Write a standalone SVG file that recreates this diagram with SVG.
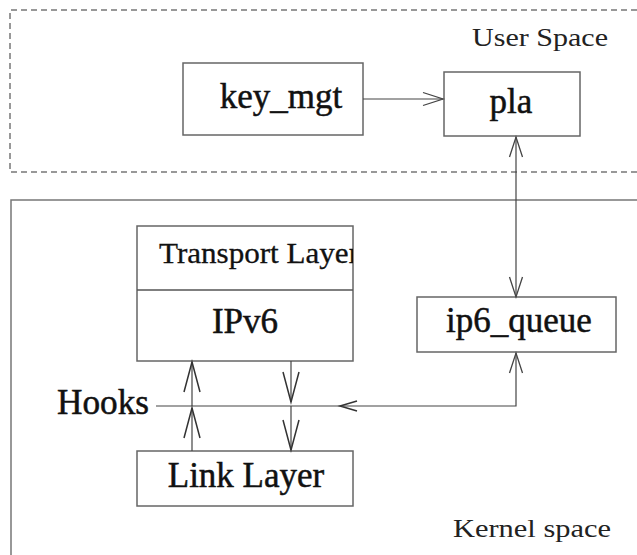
<svg xmlns="http://www.w3.org/2000/svg" width="637" height="555" viewBox="0 0 637 555">
<style>
.box{fill:#fff;stroke:#666;stroke-width:1.5}
.region{fill:none;stroke:#777;stroke-width:1.5}
.line{fill:none;stroke:#444;stroke-width:1.2}
.t{font-family:"Liberation Serif","Times New Roman",serif;fill:#111}
.big{font-size:35px;stroke:#111;stroke-width:0.5}
.lab{font-size:26px;fill:#222}
</style>
<defs>
<marker id="a20" markerUnits="userSpaceOnUse" markerWidth="24" markerHeight="16" refX="20" refY="7" orient="auto-start-reverse" viewBox="0 0 24 16" overflow="visible">
<path d="M0,0.5 L20,7 L0,13.5" fill="none" stroke="#444" stroke-width="1.3"/>
</marker>
<marker id="a30" markerUnits="userSpaceOnUse" markerWidth="34" markerHeight="18" refX="30" refY="8" orient="auto-start-reverse" viewBox="0 0 34 18" overflow="visible">
<path d="M0,0 L30,8 L0,16" fill="none" stroke="#333" stroke-width="1.5"/>
</marker>
<marker id="a17" markerUnits="userSpaceOnUse" markerWidth="20" markerHeight="12" refX="17" refY="5" orient="auto-start-reverse" viewBox="0 0 20 12" overflow="visible">
<path d="M0,0 L17,5 L0,10" fill="none" stroke="#333" stroke-width="1.5"/>
</marker>
<clipPath id="tclip"><rect x="137" y="226" width="216" height="64"/></clipPath>
</defs>

<g id="user-space">
<path class="region" d="M637,10 L10,10 L10,172 L637,172" stroke-dasharray="6,4"/>
<text class="t lab" x="472" y="46" textLength="136" lengthAdjust="spacingAndGlyphs">User Space</text>
</g>

<g id="kernel-space">
<path class="region" d="M637,200 L11,200 L11,555"/>
<text class="t lab" x="453" y="537" textLength="158" lengthAdjust="spacingAndGlyphs">Kernel space</text>
</g>

<g id="key_mgt">
<rect class="box" x="183" y="63" width="180" height="72"/>
<text class="t big" x="281" y="108" text-anchor="middle">key_mgt</text>
</g>

<g id="pla">
<rect class="box" x="444" y="72" width="136" height="64"/>
<text class="t big" x="511" y="113" text-anchor="middle">pla</text>
</g>

<g id="transport-ipv6">
<rect class="box" x="137" y="226" width="216" height="135"/>
<line x1="137" y1="290" x2="353" y2="290" stroke="#555" stroke-width="1.5"/>
<text class="t" x="159" y="263" font-size="29" stroke="#111" stroke-width="0.3" textLength="200" lengthAdjust="spacingAndGlyphs" clip-path="url(#tclip)">Transport Layer</text>
<text class="t big" x="245" y="333" text-anchor="middle">IPv6</text>
</g>

<g id="ip6_queue">
<rect class="box" x="417" y="297" width="199" height="55"/>
<text class="t big" x="519" y="332" text-anchor="middle">ip6_queue</text>
</g>

<g id="link-layer">
<rect class="box" x="137" y="451" width="216" height="55"/>
<text class="t big" x="246" y="487" text-anchor="middle">Link Layer</text>
</g>

<g id="hooks">
<text class="t big" x="57" y="414" textLength="92" lengthAdjust="spacingAndGlyphs">Hooks</text>
</g>

<g id="connectors">
<line class="line" x1="363" y1="99" x2="443" y2="99" marker-end="url(#a20)"/>
<line class="line" x1="516" y1="137" x2="516" y2="297" marker-start="url(#a20)" marker-end="url(#a20)"/>
<line class="line" x1="156" y1="406" x2="340" y2="406"/>
<path class="line" d="M340,406 L516,406 L516,353" marker-start="url(#a17)" marker-end="url(#a20)"/>
<line class="line" x1="192" y1="451" x2="192" y2="408" marker-end="url(#a30)"/>
<line class="line" x1="192" y1="406" x2="192" y2="362" marker-end="url(#a30)"/>
<line class="line" x1="291" y1="361" x2="291" y2="402" marker-end="url(#a30)"/>
<line class="line" x1="291" y1="406" x2="291" y2="450" marker-end="url(#a30)"/>
</g>
</svg>
